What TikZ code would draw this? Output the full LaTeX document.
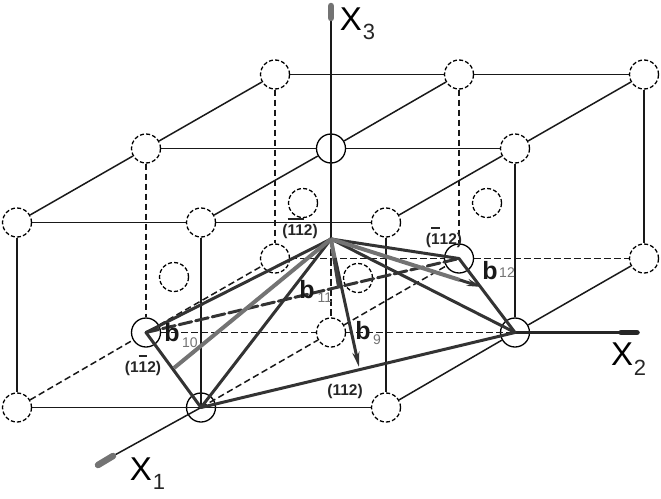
\documentclass[tikz,border=0pt]{standalone}
\usepackage{amsmath}
\usepackage{fontspec}
\setmainfont{Liberation Sans}
\usetikzlibrary{arrows.meta,calc}
\newsavebox{\barbox}
\newcommand{\barnum}[1]{\sbox{\barbox}{#1}\rlap{\raisebox{15pt}{\rule{\wd\barbox}{1.8pt}}}\usebox{\barbox}}

\begin{document}
\begin{tikzpicture}[x=1pt,y=-1pt,
    atom/.style={circle, draw, inner sep=0pt, minimum size=29pt, line width=1.3pt},
    ghost/.style={atom, dash pattern=on 4pt off 2.2pt},
    edge/.style={line width=1.5pt, black!90},
    hidden/.style={line width=1.5pt, black!90, dash pattern=on 6.5pt off 3.5pt},
    pyr/.style={line width=3pt, black!80, line cap=round},
    burg/.style={line width=4pt, black!55},
    tip/.style={line width=3pt, black!80, -{Stealth[length=15pt,width=7pt]}},
    bullet/.style={line width=6.5pt, black!55, line cap=round},
    axislabel/.style={font=\fontsize{33}{33}\selectfont, inner sep=0pt},
    axissub/.style={font=\fontsize{22}{22}\selectfont, text=black!85, inner sep=0pt},
    plane/.style={font=\fontsize{15.5}{16}\selectfont\bfseries, text=black!85, inner sep=0pt, anchor=base},
    vec/.style={font=\fontsize{25}{25}\selectfont\bfseries, text=black!90, inner sep=0pt},
    vecsub/.style={font=\fontsize{14}{14}\selectfont, text=black!55, inner sep=0pt}]
  \useasboundingbox (0,0) rectangle (661,498);
  % upper layer
  \node[ghost] (U1) at (17,222.5) {};
  \node[ghost] (U2) at (201,222.5) {};
  \node[ghost] (U3) at (386,222.5) {};
  \node[ghost] (U4) at (146,148.5) {};
  \node[atom] (U5) at (331,148.5) {};
  \node[ghost] (U6) at (515,148.5) {};
  \node[ghost] (U7) at (275,74.5) {};
  \node[ghost] (U8) at (459,74.5) {};
  \node[ghost] (U9) at (644,74.5) {};
  % lower layer
  \node[ghost] (L1) at (17,407.5) {};
  \node[atom] (L2) at (201,407.5) {};
  \node[ghost] (L3) at (386,407.5) {};
  \node[atom] (L4) at (146,332.5) {};
  \node[ghost] (L5) at (331,332.5) {};
  \node[atom] (L6) at (515,332.5) {};
  \node[ghost] (L7) at (275,258.5) {};
  \node[atom] (L8) at (459,258.5) {};
  \node[ghost] (L9) at (644,258.5) {};
  % atoms inside the cells
  \node[ghost] (C1) at (174,277) {};
  \node[ghost] (C2) at (303,203) {};
  \node[ghost] (C3) at (358,278) {};
  \node[ghost] (C4) at (487,203) {};
  % apex, feet of the vectors, axis ends
  \coordinate (P) at (331,239);
  \coordinate (F9) at (359,367);
  \coordinate (F10) at (174,368);
  \coordinate (F11) at (339,288);
  \coordinate (F12) at (482,287);
  \coordinate (X1neck) at (113,456);
  \coordinate (X1end) at (98,465);
  \coordinate (X2neck) at (621,332.5);
  \coordinate (X2end) at (637,332.5);
  \coordinate (X3neck) at (331,18);
  \coordinate (X3end) at (331,6);
  % cell edges
  \draw[edge] (U1) -- (U2);
  \draw[edge] (U2) -- (U3);
  \draw[edge] (U4) -- (U5);
  \draw[edge] (U5) -- (U6);
  \draw[edge] (U7) -- (U8);
  \draw[edge] (U8) -- (U9);
  \draw[edge] (U1) -- (U4);
  \draw[edge] (U4) -- (U7);
  \draw[edge] (U2) -- (U5);
  \draw[edge] (U5) -- (U8);
  \draw[edge] (U3) -- (U6);
  \draw[edge] (U6) -- (U9);
  \draw[edge] (U1) -- (L1);
  \draw[edge] (U2) -- (L2.center);
  \draw[edge] (U3) -- (L3);
  \draw[edge] (U6) -- (L6);
  \draw[edge] (U9) -- (L9);
  \draw[edge] (L1) -- (L2.center);
  \draw[edge] (L2.center) -- (L3);
  \draw[edge] (L3) -- (L6);
  \draw[edge] (L6) -- (L9);
  \draw[hidden] (U4) -- (L4);
  \draw[hidden] (U7) -- (L7);
  \draw[hidden] (U8) -- (L8);
  \draw[hidden] (P) -- (L5);
  \draw[hidden] (L1) -- (L4);
  \draw[hidden] (L4) -- (L7);
  \draw[hidden] (L2.center) -- (L5);
  \draw[hidden] (L5) -- (L8);
  \draw[hidden] (L4) -- (L5);
  \draw[hidden] (L5) -- (L6.center);
  \draw[hidden] (L7) -- (L8);
  \draw[hidden] (L8) -- (L9);
  % axes
  \draw[edge] (P) -- (X3neck);
  \draw[bullet] (X3neck) -- (X3end);
  \draw[edge] (L2.center) -- (X1neck);
  \draw[bullet] (X1neck) -- (X1end);
  \draw[line width=2.8pt,black!85] (L6.center) -- (X2neck);
  \draw[line width=5.5pt,black!85,line cap=round] (X2neck) -- (X2end);
  % pyramid
  \draw[pyr] (L4.center) -- (L2.center);
  \draw[pyr] (L2.center) -- (L6.center);
  \draw[pyr] (L6.center) -- (L8.center);
  \draw[pyr,dash pattern=on 13pt off 4pt] (L4.center) -- (L8.center);
  \draw[pyr] (P) -- (L4.center);
  \draw[pyr] (P) -- (L2.center);
  \draw[pyr] (P) -- (L6.center);
  \draw[pyr] (P) -- (L8.center);
  % vectors
  \draw[burg] (P) -- (F10);
  \draw[burg] (P) -- ($(P)!0.85!(F12)$);
  \draw[burg,line width=3pt] (P) -- ($(P)!0.15!(F9)$);
  \draw[burg] (P) -- ($(P)!0.4!(F11)$);
  \draw[tip] ($(P)!0.15!(F9)$) -- (F9);
  \draw[line width=3.6pt,black!75] ($(P)!0.4!(F11)$) -- (F11);
  \draw[tip] ($(P)!0.85!(F12)$) -- (F12);
  % labels
  \node[axislabel] (X3) at (351,19) {X};
  \node[axissub] (X3s) at (369,32) {3};
  \node[axislabel] (X2) at (622,354) {X};
  \node[axissub] (X2s) at (640,368) {2};
  \node[axislabel] (X1) at (141,469) {X};
  \node[axissub] (X1s) at (159,482) {1};
  \node[plane] (P1) at (300,235) {(\barnum{11}2)};
  \node[plane] (P2) at (444,244) {(\barnum{1}12)};
  \node[plane] (P3) at (143,372) {(1\barnum{1}2)};
  \node[plane] (P4) at (345,395) {(112)};
  \node[vec] (b9) at (363,331) {b};
  \node[vecsub] (b9s) at (377,340) {9};
  \node[vec] (b10) at (172,333) {b};
  \node[vecsub] (b10s) at (190,343) {10};
  \node[vec] (b11) at (307,290) {b};
  \node[vecsub] (b11s) at (325,298) {11};
  \node[vec] (b12) at (490,271) {b};
  \node[vecsub] (b12s) at (507,273) {12};
\end{tikzpicture}
\end{document}
